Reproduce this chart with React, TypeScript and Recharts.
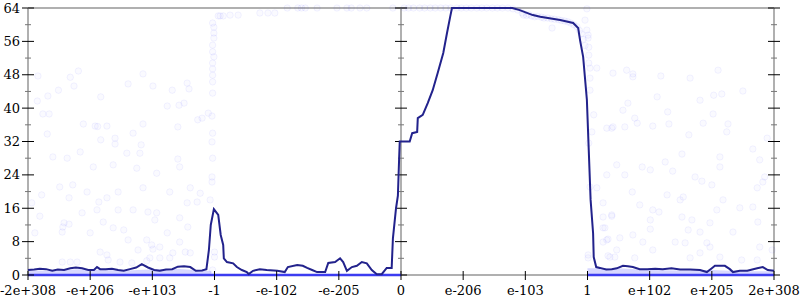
import React from 'react';
import { ComposedChart, Line, Area, Scatter, XAxis, YAxis, ReferenceLine } from 'recharts';

const xTickLabels = ['-2e+308', '-e+206', '-e+103', '-1', '-e-102', '-e-205', '0', 'e-206', 'e-103', '1', 'e+102', 'e+205', '2e+308'];
const xTicks = [0, 1, 2, 3, 4, 5, 6, 7, 8, 9, 10, 11, 12];
const yTicks = [0, 4, 8, 12, 16, 20, 24, 28, 32, 36, 40, 44, 48, 52, 56, 60, 64];
const yLabelEvery = 8;

// averaged error line: [position, bits]
const errorLine: [number, number][] = [
  [0.0, 1.2], [0.1, 1.3], [0.19, 1.5], [0.29, 1.4], [0.39, 1.0], [0.48, 1.3], [0.58, 1.2], [0.68, 1.6],
  [0.77, 1.8], [0.87, 1.6], [0.97, 1.2], [1.06, 1.2], [1.11, 1.9], [1.16, 1.4], [1.25, 1.4], [1.35, 1.5],
  [1.45, 1.2], [1.54, 1.0], [1.64, 1.4], [1.74, 1.8], [1.83, 2.6], [1.93, 1.8], [2.03, 1.2], [2.12, 1.0],
  [2.22, 1.3], [2.32, 1.4], [2.41, 2.0], [2.51, 2.1], [2.61, 1.9], [2.7, 1.0], [2.8, 1.1], [2.87, 1.4],
  [2.91, 6], [2.94, 12], [2.99, 15.8], [3.06, 14.4], [3.1, 9.6], [3.14, 7.2], [3.15, 4.0], [3.2, 3.1],
  [3.3, 2.8], [3.36, 1.9], [3.44, 1.2], [3.52, 0.7], [3.55, 0.2], [3.62, 1.0], [3.73, 1.4], [3.84, 1.2],
  [4.01, 1.0], [4.13, 0.7], [4.18, 1.9], [4.33, 2.4], [4.42, 2.2], [4.49, 1.7], [4.57, 1.2], [4.65, 0.7],
  [4.78, 0.7], [4.83, 2.9], [4.94, 3.1], [5.02, 4.0], [5.07, 3.1], [5.13, 1.0], [5.21, 1.9], [5.29, 2.2],
  [5.37, 3.1], [5.45, 2.8], [5.53, 1.2], [5.61, 0.2], [5.69, 0.2], [5.77, 1.7], [5.85, 1.7], [5.87, 8.8],
  [5.92, 16], [5.95, 19], [5.97, 28], [5.98, 32], [6.14, 32], [6.18, 34], [6.26, 34.3], [6.27, 37.6],
  [6.35, 38.4], [6.43, 41.2], [6.51, 44.3], [6.59, 48.4], [6.68, 53.2], [6.74, 58], [6.79, 61.8], [6.82, 64],
  [7.79, 64], [7.91, 63.5], [8.12, 62.3], [8.24, 61.9], [8.56, 61.1], [8.77, 60.4], [8.85, 59.2], [8.88, 56.3],
  [8.93, 52.3], [8.99, 42], [9.02, 30], [9.05, 18], [9.09, 10], [9.1, 4.3], [9.14, 1.9], [9.2, 1.7],
  [9.3, 1.3], [9.39, 1.4], [9.47, 1.6], [9.57, 2.2], [9.65, 2.1], [9.73, 1.9], [9.84, 1.4], [9.96, 1.4],
  [10.09, 1.5], [10.21, 1.4], [10.35, 1.6], [10.49, 1.3], [10.65, 1.3], [10.81, 1.2], [10.92, 0.7], [10.99, 1.5],
  [11.05, 2.2], [11.21, 2.2], [11.29, 1.4], [11.34, 0.7], [11.45, 1.0], [11.57, 1.0], [11.65, 1.3], [11.73, 1.6],
  [11.82, 1.9], [11.9, 1.2], [12.0, 1.0],
];

// sampled points
const outerLeftPts: [number, number][] = [
  [0.16, 47.7], [0.15, 41.7], [0.24, 38.6], [0.34, 38.6], [0.32, 42.9], [0.49, 44.3], [0.31, 33.8], [0.81, 48.9],
  [0.68, 47.4], [0.74, 45.3], [0.89, 36.2], [1.08, 35.7], [1.12, 35.6], [1.17, 42.7], [1.27, 35.7], [1.17, 32.4],
  [1.4, 32.8], [1.4, 31.4], [1.61, 45.8], [1.69, 34], [1.85, 48.2], [1.85, 36.2], [2.01, 45.3], [2.24, 40.5],
  [2.32, 44.3], [2.43, 40.7], [2.51, 41.2], [2.56, 46], [2.59, 44.6], [2.41, 35.5], [2.73, 37.2], [1.82, 31.2],
  [0.4, 28.3], [0.63, 28], [0.84, 29.5], [1.05, 25.9], [1.37, 26.4], [1.59, 29.2], [1.8, 29.2], [1.75, 25.6],
  [2.07, 24.4], [2.44, 25.9], [2.41, 27.8], [0.51, 21.1], [0.72, 21.6], [0.22, 19.2], [0.95, 19.9], [1.45, 19.9],
  [1.85, 20.9], [2.28, 19.9], [2.61, 20.9], [0.06, 17.3], [0.66, 18.5], [1.14, 17.5], [1.27, 18.5], [1.69, 15.6],
  [1.93, 15.1], [2.07, 14.9], [2.56, 17.3], [2.72, 17.5], [0.19, 14.1], [0.87, 14.9], [1.11, 15.6], [1.45, 15.6],
  [0.58, 12.5], [0.66, 12.2], [0.56, 11.5], [1.21, 12.7], [2.04, 13.2], [2.44, 13.7], [2.57, 11.5], [0.11, 10.1],
  [0.55, 10.3], [1.0, 10.1], [1.37, 11.3], [1.54, 10.8], [1.61, 8.4], [1.91, 8.4], [2.24, 10.1], [1.99, 7.2],
  [2.12, 6.7], [2.01, 6.2], [2.44, 7.9], [1.16, 5.5], [1.27, 4.8], [1.77, 6], [2.53, 5.5], [1.96, 4.1],
  [2.28, 4.1], [2.33, 5.3], [2.61, 5.3], [0.55, 3.1], [0.68, 3.1], [0.79, 3.1], [1.29, 3.6], [1.48, 3.1],
  [1.67, 2.9], [1.91, 3.4], [2.12, 4.1],
];

const negInnerPts: [number, number][] = [
  [2.97, 60.4], [2.99, 59.4], [2.99, 58], [2.99, 56.8], [2.97, 55.1], [2.97, 53.5], [2.99, 52.3], [2.97, 50.8],
  [2.97, 49.4], [2.97, 47.9], [2.97, 46.3], [2.97, 43.6], [2.9, 38.8], [2.96, 38.1], [2.97, 34], [2.96, 31.9],
  [2.97, 28], [2.96, 23.5], [2.96, 22.3], [2.93, 18], [2.77, 19.6], [3.0, 5.5], [3.0, 4.3], [2.97, 1.2],
  [2.8, 37.6], [3.06, 62.1], [3.09, 62.1], [3.14, 62.1], [3.25, 62.3], [3.38, 62.3], [3.73, 62.8], [3.86, 62.8],
  [3.97, 62.8], [4.17, 64], [4.34, 64], [4.4, 64], [4.46, 64], [4.65, 64], [4.97, 64], [5.13, 64],
  [5.2, 64], [5.34, 64], [5.45, 64], [5.87, 64],
];

const posInnerPts: [number, number][] = [
  [6.05, 64], [6.12, 64], [6.2, 64], [6.3, 64], [6.38, 64], [6.47, 64], [6.55, 64], [6.64, 64],
  [6.72, 64], [6.8, 64], [6.9, 64], [6.97, 64], [7.05, 64], [7.13, 64], [7.22, 64], [7.3, 64],
  [7.38, 64], [7.47, 64], [7.55, 64], [7.63, 64], [7.72, 64], [7.8, 63.8], [7.88, 63.5],
  [7.95, 62.8], [7.97, 62.3], [8.02, 62.2], [8.05, 62.5], [8.1, 62.1], [8.15, 61.9], [8.2, 62], [8.26, 61.8],
  [8.3, 61.6], [8.36, 61.6], [8.42, 61.4], [8.47, 61.3], [8.53, 61.2], [8.58, 61.0], [8.63, 60.9], [8.68, 60.7],
  [8.73, 60.4], [8.78, 60.0], [8.83, 59.5], [8.87, 58.6], [8.9, 57.8], [8.93, 56.5], [8.96, 55],
  [8.99, 63.8], [8.96, 61.1], [9.01, 57.5], [9.01, 56.8], [9.02, 54.6], [9.02, 52.7], [9.02, 50.8], [9.04, 49.6],
  [9.04, 47.2], [9.04, 44.3], [9.1, 38.4], [9.07, 34.3], [9.02, 31.6], [9.04, 21.1], [9.01, 4.8], [9.01, 4.1],
  [8.43, 59.2], [8.99, 58.7],
];

const outerRightPts: [number, number][] = [
  [9.15, 49.6], [9.41, 48.4], [9.31, 35.2], [9.41, 35.5], [9.47, 26.4], [9.31, 24], [9.15, 20.9], [9.25, 17.3],
  [9.25, 13.9], [9.39, 14.1], [9.25, 11.3], [9.33, 8.6], [9.25, 7.9], [9.44, 4.3], [9.36, 4.3],
  [9.63, 49.1], [9.73, 48.2], [9.73, 47.5], [10.18, 47.7], [10.65, 47.2], [11.1, 49.1], [10.12, 42.7], [9.65, 41.2],
  [9.57, 39.5], [10.29, 39.1], [10.81, 41.9], [11.03, 43.1], [11.16, 43.4], [11.5, 44.1], [11.02, 38.6], [9.76, 37.6],
  [9.8, 36.4], [9.39, 35.2], [9.6, 35.5], [10.05, 35.7], [10.31, 36.2], [10.86, 36.4], [11.26, 36.2], [11.24, 34.3],
  [10.63, 33.6], [11.89, 32.8], [11.66, 30.2],
  [9.88, 25.9], [10.01, 25.2], [10.25, 27.1], [10.52, 29], [10.37, 24.9], [10.73, 23.5], [10.84, 22.5], [11.0, 21.6],
  [11.13, 25.9], [11.13, 28.3], [11.77, 27.6], [11.82, 22.3], [11.85, 23.5], [11.73, 20.9], [9.6, 24], [9.72, 19.9],
  [9.84, 16.8], [10.05, 15.6], [10.15, 15.1], [10.28, 19.2], [10.54, 18.7], [10.49, 18], [11.18, 18], [11.08, 15.6],
  [11.45, 16.1], [11.66, 16.3], [9.39, 14.4], [10.01, 13.2], [10.52, 13.9], [10.68, 13.2], [10.97, 12.5], [11.74, 12.7],
  [9.28, 11.3], [10.01, 11], [10.62, 10.8], [10.81, 10.3], [11.34, 10.3], [9.52, 8.9], [9.31, 8.4], [9.73, 9.6],
  [9.89, 7.9], [10.41, 7.9], [10.57, 7.7], [10.92, 7.7], [10.97, 6.7], [11.77, 6.7], [11.97, 6], [9.47, 6],
  [10.05, 6], [9.33, 4.6], [9.76, 4.1], [10.65, 4.1], [10.81, 5.3], [11.13, 4.3], [11.48, 3.6], [11.73, 3.6],
];

// dense low-error clusters of samples
const lowBandLeft: [number, number][] = [[0, 1.1], [0.4, 1.0], [0.8, 1.4], [1.2, 1.2], [1.6, 1.1], [2.0, 1.4], [2.4, 1.5], [2.8, 1.0], [2.95, 1.0]];
const lowBandRight: [number, number][] = [[9.0, 1.6], [9.5, 1.6], [10.0, 1.2], [10.5, 1.1], [11.0, 1.2], [11.5, 0.9], [12, 0.9]];
const zeroBandLeft: [number, number][] = [[0, 0], [6, 0]];
const zeroBandRight: [number, number][] = [[9.0, 0], [12, 0]];

const toXY = (arr: [number, number][]) => arr.map(([x, y]) => ({ x, y }));

const FONT = 'DejaVu Serif';
const AXIS_GRAY = '#b0b0b0';

const LeftTick = (props: any) => {
  const { x, y, payload } = props;
  const v = payload.value;
  const major = v % yLabelEvery === 0;
  return (
    <g>
      <line x1={x - (major ? 6 : 3)} x2={x + (major ? 6 : 3)} y1={y} y2={y} stroke={major ? '#000' : '#777'} strokeWidth={1} />
      {major && (
        <text x={x - 8} y={y} dy={4.6} textAnchor="end" fontFamily={FONT} fontSize={13} fill="#000">
          {v}
        </text>
      )}
    </g>
  );
};

const BottomTick = (props: any) => {
  const { x, y, payload } = props;
  return (
    <g>
      <line x1={x} x2={x} y1={y - 4} y2={y + 5} stroke="#000" strokeWidth={1} />
      <text x={x} y={y} dy={20} textAnchor="middle" fontFamily={FONT} fontSize={13} fill="#000">
        {xTickLabels[payload.value]}
      </text>
    </g>
  );
};

const axisTickShape = (props: any) => {
  const { cx, cy, payload } = props;
  const major = payload.y % yLabelEvery === 0;
  return (
    <line x1={cx - (major ? 6 : 3)} x2={cx + (major ? 6 : 3)} y1={cy} y2={cy} stroke={major ? '#000' : '#777'} strokeWidth={1} />
  );
};

const dotShape = (props: any) => (
  <circle cx={props.cx} cy={props.cy} r={3.2} fill="#3333ff" fillOpacity={0.025} stroke="#3333ff" strokeOpacity={0.06} strokeWidth={1} />
);

export default function App() {
  const centerTicks = yTicks.map((v) => ({ x: 6, y: v }));
  const rightTicks = yTicks.map((v) => ({ x: 12, y: v }));
  return (
    <div style={{ position: 'absolute', left: 0, top: 0, width: 800, height: 300, background: '#fff' }}>
      <ComposedChart width={800} height={300} margin={{ top: 8, right: 26, bottom: 0, left: 0 }}>
        <XAxis
          type="number"
          dataKey="x"
          domain={[0, 12]}
          ticks={xTicks}
          interval={0}
          height={25}
          tickSize={0}
          tickMargin={0}
          tickLine={false}
          axisLine={{ stroke: AXIS_GRAY, strokeWidth: 2 }}
          tick={<BottomTick />}
        />
        <YAxis
          type="number"
          dataKey="y"
          domain={[0, 64]}
          ticks={yTicks}
          interval={0}
          width={28}
          tickSize={0}
          tickMargin={0}
          tickLine={false}
          axisLine={{ stroke: AXIS_GRAY, strokeWidth: 2 }}
          tick={<LeftTick />}
        />
        <ReferenceLine y={64} stroke={AXIS_GRAY} strokeWidth={2} />
        <ReferenceLine x={6} stroke={AXIS_GRAY} strokeWidth={2} />
        <ReferenceLine x={12} stroke={AXIS_GRAY} strokeWidth={2} />
        <Scatter data={centerTicks} shape={axisTickShape} isAnimationActive={false} />
        <Scatter data={rightTicks} shape={axisTickShape} isAnimationActive={false} />
        <Area data={toXY(lowBandLeft)} dataKey="y" type="linear" stroke="none" fill="#3535ff" fillOpacity={0.2} isAnimationActive={false} dot={false} activeDot={false} />
        <Area data={toXY(lowBandRight)} dataKey="y" type="linear" stroke="none" fill="#3535ff" fillOpacity={0.2} isAnimationActive={false} dot={false} activeDot={false} />
        <Scatter data={toXY(outerLeftPts)} shape={dotShape} isAnimationActive={false} />
        <Scatter data={toXY(negInnerPts)} shape={dotShape} isAnimationActive={false} />
        <Scatter data={toXY(posInnerPts)} shape={dotShape} isAnimationActive={false} />
        <Scatter data={toXY(outerRightPts)} shape={dotShape} isAnimationActive={false} />
        <Line data={toXY(zeroBandLeft)} dataKey="y" type="linear" stroke="#3c3cf0" strokeWidth={2.5} dot={false} activeDot={false} isAnimationActive={false} zIndex={900} />
        <Line data={toXY(zeroBandRight)} dataKey="y" type="linear" stroke="#3c3cf0" strokeWidth={2.5} dot={false} activeDot={false} isAnimationActive={false} zIndex={900} />
        <Line data={toXY(errorLine)} dataKey="y" type="linear" stroke="#22228c" strokeWidth={2} dot={false} activeDot={false} isAnimationActive={false} zIndex={1000} />
      </ComposedChart>
    </div>
  );
}
